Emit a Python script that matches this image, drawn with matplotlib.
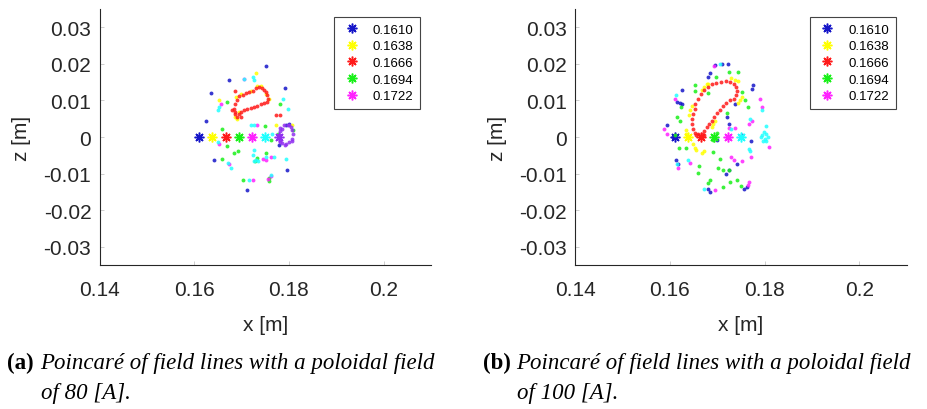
"""
Poincare sections of field lines, poloidal field 80 A and 100 A
"""

import matplotlib.pyplot as plt

# starting radius of each traced field line (z = 0)
START_X = [0.1610, 0.1638, 0.1666, 0.1694, 0.1722, 0.1750, 0.1778]
LEGEND_LABELS = ["0.1610", "0.1638", "0.1666", "0.1694", "0.1722"]
COLOR_LIST = ["#1515c8", "#ffff00", "#ff1a1a", "#18f018", "#ff22ff", "#22ffff", "#9030f0"]

CAPTIONS = [
    ("(a)", "Poincaré of field lines with a poloidal field", "of 80 [A]."),
    ("(b)", "Poincaré of field lines with a poloidal field", "of 100 [A]."),
]

# ---------------- panel (a): 80 A ----------------
A_BLUE_X = [0.1751, 0.1673, 0.1635, 0.1792, 0.1624, 0.1641, 0.1796, 0.1711, 0.1793, 0.1801, 0.1779]
A_BLUE_Z = [0.0194, 0.0156, 0.0121, 0.0133, 0.0045, -0.0064, -0.0091, -0.0145, 0.0034, 0.0035, -0.0023]

A_YELLOW_X = [0.1731, 0.1652, 0.1689, 0.1698, 0.1719, 0.1733, 0.1740, 0.1752, 0.1758,
              0.1691, 0.1687, 0.1694, 0.1772, 0.1807]
A_YELLOW_Z = [0.0175, 0.0102, 0.0109, 0.0118, 0.0125, 0.0139, 0.0139, 0.0118, 0.0105,
              0.0050, 0.0055, 0.0068, 0.0032, 0.0032]

A_RED_X = [0.1687, 0.1684, 0.1687, 0.1691, 0.1694, 0.1702, 0.1709, 0.1716, 0.1723, 0.1730,
           0.1737, 0.1742, 0.1747, 0.1751, 0.1754, 0.1756, 0.1754, 0.1747, 0.1740, 0.1733,
           0.1726, 0.1719, 0.1712, 0.1705, 0.1698, 0.1694, 0.1691, 0.1686, 0.1680, 0.1698,
           0.1772, 0.1781, 0.1687]
A_RED_Z = [0.0068, 0.0077, 0.0091, 0.0100, 0.0111, 0.0114, 0.0120, 0.0123, 0.0127, 0.0134,
           0.0136, 0.0134, 0.0129, 0.0123, 0.0114, 0.0105, 0.0095, 0.0093, 0.0089, 0.0086,
           0.0082, 0.0080, 0.0077, 0.0073, 0.0068, 0.0064, 0.0056, 0.0062, 0.0073, 0.0055,
           0.0059, 0.0059, 0.0125]

A_GREEN_X = [0.1669, 0.1780, 0.1658, 0.1749, 0.1668, 0.1684, 0.1692, 0.1659, 0.1732, 0.1728,
             0.1751, 0.1702, 0.1758, 0.1758, 0.1763, 0.1809, 0.1777]
A_GREEN_Z = [0.0095, 0.0091, 0.0023, 0.0029, -0.0025, -0.0045, -0.0039, -0.0060, -0.0057, -0.0065,
             -0.0045, -0.0118, -0.0111, -0.0121, -0.0009, 0.0018, 0.0009]

A_MAGENTA_X = [0.1656, 0.1652, 0.1751, 0.1673, 0.1723, 0.1756, 0.1761, 0.1763, 0.1746, 0.1733, 0.1704]
A_MAGENTA_Z = [0.0089, -0.0018, -0.0064, -0.0073, -0.0118, -0.0114, -0.0107, -0.0055, -0.0061, 0.0032, 0.0158]

A_CYAN_X = [0.1705, 0.1723, 0.1726, 0.1651, 0.1652, 0.1788, 0.1797, 0.1719, 0.1726, 0.1765,
            0.1649, 0.1726, 0.1723, 0.1730, 0.1726, 0.1735, 0.1672, 0.1677, 0.1793, 0.1768,
            0.1716, 0.1751, 0.1761]
A_CYAN_Z = [0.0158, 0.0165, 0.0156, 0.0073, 0.0082, 0.0105, 0.0077, 0.0034, 0.0032, 0.0009,
            -0.0014, -0.0036, -0.0050, -0.0064, -0.0066, -0.0065, -0.0070, -0.0085, -0.0059, -0.0055,
            -0.0118, -0.0055, -0.0105]

A_PURPLE_X = [0.1782, 0.1790, 0.1797, 0.1804, 0.1807, 0.1809, 0.1806, 0.1800, 0.1793, 0.1786,
              0.1780, 0.1779, 0.1780, 0.1786, 0.1800, 0.1782, 0.1791, 0.1807]
A_PURPLE_Z = [0.0025, 0.0032, 0.0034, 0.0027, 0.0018, 0.0007, -0.0005, -0.0014, -0.0018, -0.0016,
              -0.0007, 0.0005, 0.0016, 0.0023, 0.0032, -0.0014, -0.0023, -0.0011]

# ---------------- panel (b): 100 A ----------------
B_BLUE_X = [0.1695, 0.1709, 0.1722, 0.1685, 0.1681, 0.1625, 0.1621, 0.1625, 0.1616, 0.1593,
            0.1737, 0.1725, 0.1776, 0.1774, 0.1752, 0.1771, 0.1613, 0.1618, 0.1741, 0.1725,
            0.1718, 0.1680, 0.1685, 0.1757, 0.1762, 0.1699, 0.1720, 0.1607]
B_BLUE_Z = [0.0198, 0.0200, 0.0200, 0.0175, 0.0164, 0.0129, 0.0093, 0.0089, 0.0095, 0.0032,
            0.0091, 0.0036, 0.0141, 0.0132, 0.0005, -0.0011, -0.0062, -0.0073, -0.0073, -0.0091,
            -0.0102, -0.0141, -0.0150, -0.0141, -0.0136, -0.0007, 0.0055, 0.0000]

B_YELLOW_X = [0.1681, 0.1678, 0.1673, 0.1667, 0.1646, 0.1642, 0.1640, 0.1635, 0.1634, 0.1648,
              0.1652, 0.1655, 0.1667, 0.1671, 0.1730, 0.1737, 0.1744, 0.1753, 0.1748, 0.1743,
              0.1695, 0.1692, 0.1688]
B_YELLOW_Z = [0.0145, 0.0144, 0.0136, 0.0129, 0.0086, 0.0073, 0.0059, 0.0018, 0.0009, -0.0018,
              -0.0030, -0.0036, -0.0045, -0.0038, 0.0162, 0.0156, 0.0153, 0.0109, 0.0100, 0.0093,
              0.0045, 0.0036, 0.0027]

B_RED_X = [0.1656, 0.1660, 0.1653, 0.1671, 0.1649, 0.1647, 0.1647, 0.1649, 0.1652, 0.1654,
           0.1660, 0.1666, 0.1673, 0.1680, 0.1688, 0.1697, 0.1707, 0.1718, 0.1727, 0.1735,
           0.1740, 0.1741, 0.1740, 0.1735, 0.1727, 0.1718, 0.1713, 0.1706, 0.1699, 0.1694,
           0.1688, 0.1683, 0.1678, 0.1673, 0.1667]
B_RED_Z = [0.0005, 0.0009, 0.0011, 0.0005, 0.0023, 0.0036, 0.0050, 0.0064, 0.0077, 0.0091,
           0.0105, 0.0118, 0.0129, 0.0138, 0.0144, 0.0147, 0.0150, 0.0152, 0.0150, 0.0145,
           0.0136, 0.0125, 0.0114, 0.0105, 0.0100, 0.0093, 0.0084, 0.0075, 0.0065, 0.0055,
           0.0045, 0.0036, 0.0027, 0.0016, 0.0009]

B_GREEN_X = [0.1652, 0.1652, 0.1681, 0.1744, 0.1725, 0.1697, 0.1623, 0.1614, 0.1621, 0.1699,
             0.1720, 0.1753, 0.1759, 0.1766, 0.1620, 0.1633, 0.1661, 0.1659, 0.1690, 0.1706,
             0.1702, 0.1713, 0.1725, 0.1685, 0.1681, 0.1713, 0.1727, 0.1741, 0.1750, 0.1611,
             0.1692]
B_GREEN_Z = [0.0141, 0.0127, 0.0120, 0.0177, 0.0177, 0.0165, 0.0082, 0.0055, 0.0045, 0.0011,
             0.0065, 0.0123, 0.0100, 0.0082, -0.0029, -0.0029, -0.0080, -0.0098, -0.0041, -0.0059,
             -0.0086, -0.0089, -0.0089, -0.0118, -0.0127, -0.0136, -0.0123, -0.0118, -0.0135, 0.0005,
             -0.0009]

B_MAGENTA_X = [0.1694, 0.1611, 0.1791, 0.1795, 0.1588, 0.1593, 0.1773, 0.1768, 0.1725, 0.1737,
               0.1729, 0.1736, 0.1752, 0.1771, 0.1810, 0.1618, 0.1642, 0.1768, 0.1766, 0.1695]
B_MAGENTA_Z = [0.0193, 0.0105, 0.0105, 0.0082, 0.0023, 0.0009, 0.0045, 0.0035, 0.0025, 0.0025,
               -0.0056, -0.0064, -0.0066, -0.0055, -0.0027, -0.0086, -0.0071, -0.0123, -0.0132, -0.0145]

B_CYAN_X = [0.1706, 0.1613, 0.1769, 0.1730, 0.1799, 0.1802, 0.1795, 0.1801, 0.1808, 0.1804,
            0.1797, 0.1792, 0.1803, 0.1768, 0.1770, 0.1794, 0.1671, 0.1614, 0.1639]
B_CYAN_Z = [0.0200, 0.0114, 0.0050, 0.0023, 0.0014, 0.0009, 0.0005, -0.0005, 0.0000, -0.0011,
            -0.0011, 0.0000, 0.0029, -0.0032, -0.0038, 0.0073, -0.0141, -0.0073, -0.0064]

PANELS = [
    [(A_BLUE_X, A_BLUE_Z), (A_YELLOW_X, A_YELLOW_Z), (A_RED_X, A_RED_Z), (A_GREEN_X, A_GREEN_Z),
     (A_MAGENTA_X, A_MAGENTA_Z), (A_CYAN_X, A_CYAN_Z), (A_PURPLE_X, A_PURPLE_Z)],
    [(B_BLUE_X, B_BLUE_Z), (B_YELLOW_X, B_YELLOW_Z), (B_RED_X, B_RED_Z), (B_GREEN_X, B_GREEN_Z),
     (B_MAGENTA_X, B_MAGENTA_Z), (B_CYAN_X, B_CYAN_Z)],
]

plt.rcParams["font.family"] = ["Liberation Sans", "DejaVu Sans"]

fig = plt.figure(figsize=(9.28, 4.10), dpi=100)
ax_left = [0.1074, 0.6199]
TEXT_COLOR = "#262626"
STAR = (8, 2, 0)

for panel_idx, series in enumerate(PANELS):
    ax = fig.add_axes([ax_left[panel_idx], 0.3512, 0.357, 0.6244])
    handles = []

    for idx, (xs, zs) in enumerate(series):
        # Poincare crossings
        ax.plot(xs, zs, ls="none", marker="o", ms=2.8, mew=0,
                color=COLOR_LIST[idx], alpha=0.85)
        # starting point of the field line
        (h,) = ax.plot([START_X[idx]], [0.0], ls="none", marker=STAR, ms=7,
                       mew=1.1, color=COLOR_LIST[idx])
        handles.append(h)

    ax.set_xlim(0.14, 0.21)
    ax.set_ylim(-0.035, 0.035)
    ax.set_xticks([0.14, 0.16, 0.18, 0.2])
    ax.set_xticklabels(["0.14", "0.16", "0.18", "0.2"])
    ax.set_yticks([-0.03, -0.02, -0.01, 0, 0.01, 0.02, 0.03])
    ax.set_yticklabels(["-0.03", "-0.02", "-0.01", "0", "0.01", "0.02", "0.03"])

    # matlab style: box off, small inward ticks
    ax.spines["top"].set_visible(False)
    ax.spines["right"].set_visible(False)
    for side in ["left", "bottom"]:
        ax.spines[side].set_color("#262626")
        ax.spines[side].set_linewidth(0.8)
    ax.tick_params(direction="in", length=3, width=0.5, color="#bbbbbb",
                   labelsize=15, labelcolor=TEXT_COLOR, pad=6)
    ax.tick_params(axis="x", pad=11)

    ax.set_xlabel("x [m]", fontsize=15, color=TEXT_COLOR, labelpad=11)
    ax.set_ylabel("z [m]", fontsize=15, color=TEXT_COLOR, labelpad=9)

    leg = ax.legend(handles[:5], LEGEND_LABELS, loc="upper right",
                    bbox_to_anchor=(0.967, 0.969), borderaxespad=0,
                    fontsize=9.5, fancybox=False, edgecolor="#444444",
                    handlelength=1.6, handletextpad=0.8, labelspacing=0.33,
                    borderpad=0.5, framealpha=1)
    leg.get_frame().set_linewidth(0.8)

    # caption below the panel
    label, line1, line2 = CAPTIONS[panel_idx]
    x0 = [7, 483][panel_idx]
    fig.text(x0 / 928, 1 - 369 / 410, label, family="Liberation Serif",
             weight="bold", fontsize=16.5, va="baseline")
    fig.text((x0 + 33) / 928, 1 - 369 / 410, line1, family="Liberation Serif",
             style="italic", fontsize=16.5, va="baseline")
    fig.text((x0 + 34) / 928, 1 - 399 / 410, line2, family="Liberation Serif",
             style="italic", fontsize=16.5, va="baseline")

plt.savefig("out.png", dpi=100)
